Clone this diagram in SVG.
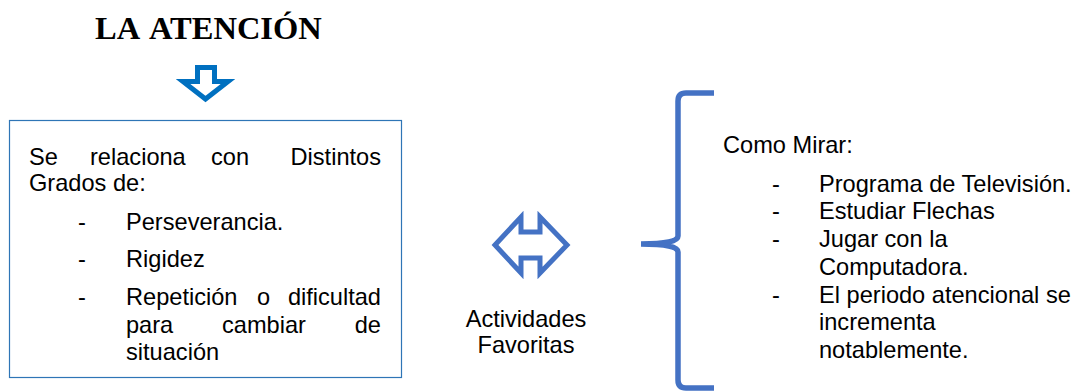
<svg xmlns="http://www.w3.org/2000/svg" width="1080" height="391" viewBox="0 0 1080 391">
<style>
.t{font-family:"Liberation Sans",Arial,sans-serif;font-size:23.6px;fill:#000}
.title{font-family:"Liberation Serif","Times New Roman",serif;font-weight:bold;font-size:32.5px;fill:#000}
.arrow{fill:#fff;stroke-width:5;stroke-linejoin:miter}
</style>
<rect width="1080" height="391" fill="#fff"/>
<g id="title"><text class="title" y="38.5"><tspan x="95">LA</tspan><tspan x="149">ATENCIÓN</tspan></text></g>
<g id="connectors">
<polygon class="arrow" stroke="#0070C0" points="197.5,67.5 214.5,67.5 214.5,81.5 228,81.5 205.5,99 183,81.5 197.5,81.5"/>
<polygon class="arrow" stroke="#4472C4" points="495,245 521,217 521,232 540,232 540,217 567,245 540,273 540,258 521,258 521,273"/>
</g>
<g id="box">
<rect x="9.5" y="120.5" width="392" height="257" fill="#fff" stroke="#2E75B6" stroke-width="1.2"/>
<text class="t" y="165"><tspan x="29">Se</tspan><tspan x="90">relaciona</tspan><tspan x="211">con</tspan><tspan x="381" text-anchor="end">Distintos</tspan></text>
<text class="t" x="29" y="191">Grados de:</text>
<text class="t" x="78" y="230">-</text><text class="t" x="126" y="230">Perseverancia.</text>
<text class="t" x="78" y="267">-</text><text class="t" x="126" y="267">Rigidez</text>
<text class="t" x="78" y="305">-</text>
<text class="t" y="305"><tspan x="126">Repetición</tspan><tspan x="257">o</tspan><tspan x="381" text-anchor="end">dificultad</tspan></text>
<text class="t" y="333"><tspan x="126">para</tspan><tspan x="222">cambiar</tspan><tspan x="381" text-anchor="end">de</tspan></text>
<text class="t" x="126" y="360">situación</text>
</g>
<g id="actividades">
<text class="t" x="526" y="327" text-anchor="middle">Actividades</text>
<text class="t" x="526" y="353" text-anchor="middle">Favoritas</text>
</g>
<g id="brace">
<path d="M714,93 L686,93 Q678,93 678,101 L678,236 Q678,244 641,244 Q678,244 678,252 L678,380 Q678,388 686,388 L714,388" fill="none" stroke="#4472C4" stroke-width="5.5"/>
</g>
<g id="list">
<text class="t" x="723" y="153">Como Mirar:</text>
<text class="t" x="772" y="192">-</text><text class="t" x="819" y="192">Programa de Televisión.</text>
<text class="t" x="772" y="219">-</text><text class="t" x="819" y="219">Estudiar Flechas</text>
<text class="t" x="772" y="247">-</text><text class="t" x="819" y="247">Jugar con la</text>
<text class="t" x="819" y="275">Computadora.</text>
<text class="t" x="772" y="303">-</text><text class="t" x="819" y="303">El periodo atencional se</text>
<text class="t" x="819" y="330">incrementa</text>
<text class="t" x="819" y="358">notablemente.</text>
</g>
</svg>
